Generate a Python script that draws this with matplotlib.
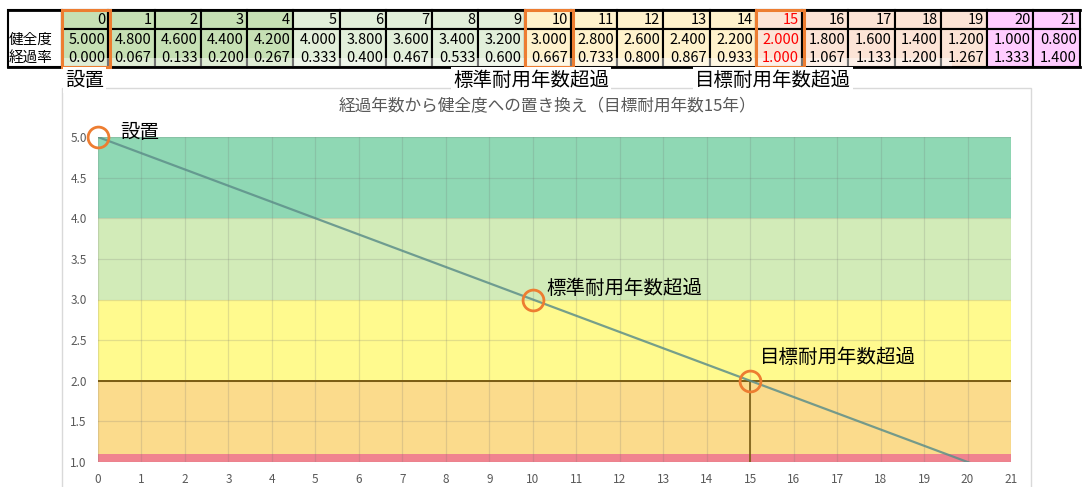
import matplotlib
matplotlib.use('Agg')
import matplotlib.pyplot as plt
from matplotlib.patches import Rectangle

plt.rcParams['font.family'] = ['Noto Sans CJK JP', 'DejaVu Sans']

years = list(range(22))
health = [5.000, 4.800, 4.600, 4.400, 4.200, 4.000, 3.800, 3.600, 3.400, 3.200, 3.000,
          2.800, 2.600, 2.400, 2.200, 2.000, 1.800, 1.600, 1.400, 1.200, 1.000, 0.800]
ratio = [0.000, 0.067, 0.133, 0.200, 0.267, 0.333, 0.400, 0.467, 0.533, 0.600, 0.667,
         0.733, 0.800, 0.867, 0.933, 1.000, 1.067, 1.133, 1.200, 1.267, 1.333, 1.400]
row_labels = ['健全度', '経過率']
group_starts = [0, 5, 10, 15, 20]
group_colors = ['#c6e0b4', '#e2efda', '#fff2cc', '#fce4d6', '#ffccff']

key_years = [0, 10, 15]
key_health = [5.0, 3.0, 2.0]
key_labels = ['設置', '標準耐用年数超過', '目標耐用年数超過']
red_year = 15

band_edges = [1.0, 1.1, 2.0, 3.0, 4.0, 5.0]
band_colors = ['#f0838f', '#fbdb8c', '#fffa8e', '#d2ebb8', '#8fd8b4']

title = '経過年数から健全度への置き換え（目標耐用年数15年）'

W, H = 1082, 487
fig = plt.figure(figsize=(W / 100, H / 100), dpi=100)

# ---- table (drawn in pixel coords) ----
tab = fig.add_axes([0, 0, 1, 1])
tab.set_xlim(0, W)
tab.set_ylim(H, 0)
tab.axis('off')

x_lab, x0, cw = 8, 62, 46.26
y_top, y_mid, y_bot = 10, 29, 67


def cell_color(i):
    c = group_colors[0]
    for s, col in zip(group_starts, group_colors):
        if i >= s:
            c = col
    return c


tab.add_patch(Rectangle((x_lab, y_top), x0 - x_lab, y_bot - y_top, fc='white', ec='black', lw=1.5))
for i, yr in enumerate(years):
    xl = x0 + i * cw
    fc = cell_color(i)
    tab.add_patch(Rectangle((xl, y_top), cw, y_mid - y_top, fc=fc, ec='black', lw=1.5))
    tab.add_patch(Rectangle((xl, y_mid), cw, y_bot - y_mid, fc=fc, ec='black', lw=1.5))
    tc = 'red' if yr == red_year else 'black'
    tab.text(xl + cw - 3, 19.5, str(yr), ha='right', va='center', fontsize=10.5, color=tc)
    tab.text(xl + cw - 3, 40, f'{health[i]:.3f}', ha='right', va='center', fontsize=10.5, color=tc)
    tab.text(xl + cw - 3, 57.5, f'{ratio[i]:.3f}', ha='right', va='center', fontsize=10.5, color=tc)
tab.plot([x_lab, x0 + 22 * cw], [y_top, y_top], color='black', lw=2)
tab.plot([x_lab, x0 + 22 * cw], [y_bot, y_bot], color='black', lw=2)
for j, lab in enumerate(row_labels):
    tab.text(x_lab + 1, 40 + j * 17.5, lab, ha='left', va='center', fontsize=10.5)

# faded strip across the lower row (pasted screenshot edge)
tab.add_patch(Rectangle((x0, 58), 890, 9, fc='white', ec='none', alpha=0.45))

for yr in key_years:
    tab.add_patch(Rectangle((x0 + yr * cw, y_top), cw + 2, y_bot - y_top,
                            fc='none', ec='#ed7d31', lw=2.2, zorder=5))

# chart frame
tab.add_patch(Rectangle((62, 88), 969, 410, fc='white', ec='#d9d9d9', lw=1))

# ---- chart ----
ax = fig.add_axes([98 / W, 1 - 462 / H, (1011 - 98) / W, (462 - 137) / H])
for lo, hi, c in zip(band_edges[:-1], band_edges[1:], band_colors):
    ax.axhspan(lo, hi, color=c, lw=0, zorder=0)
ax.set_xlim(0, 21)
ax.set_ylim(1.0, 5.0)
ax.set_xticks(years)
ax.set_yticks([1.0, 1.5, 2.0, 2.5, 3.0, 3.5, 4.0, 4.5, 5.0])
ax.set_yticklabels([f'{v:.1f}' for v in ax.get_yticks()])
ax.tick_params(length=0, labelsize=8.5, labelcolor='#595959')
ax.tick_params(axis='y', pad=8)
ax.tick_params(axis='x', pad=8)
ax.grid(True, color='#707070', alpha=0.2, lw=0.9)
ax.set_axisbelow(False)
for s in ax.spines.values():
    s.set_visible(False)

ax.axhline(2.0, color='#7a5c12', lw=1.4, zorder=3)
ax.plot([15, 15], [1.0, 2.0], color='#7a5c12', lw=1.2, zorder=3)
ax.plot(years, health, color='#5e8f8a', lw=1.6, alpha=0.85, zorder=4)
ax.plot(key_years, key_health, 'o', ms=15, mfc='none', mec='#ed7d31', mew=2, zorder=6, clip_on=False)

offsets = [(16, 3), (10, 8), (7, 17)]
for xv, yv, lab, off in zip(key_years, key_health, key_labels, offsets):
    ax.annotate(lab, (xv, yv), xytext=off, textcoords='offset points',
                ha='left', va='center', fontsize=14, color='black', zorder=7)

fig.text(547 / W, 1 - 107 / H, title, ha='center', va='center', fontsize=12, color='#595959')

# labels above chart
top_x = [65, 453, 695]
for xp, lab in zip(top_x, key_labels):
    fig.text(xp / W, 1 - 80 / H, lab, ha='left', va='center', fontsize=14, color='black',
             bbox=dict(fc='white', ec='none', pad=1.5))

fig.savefig('out.png', dpi=100)
